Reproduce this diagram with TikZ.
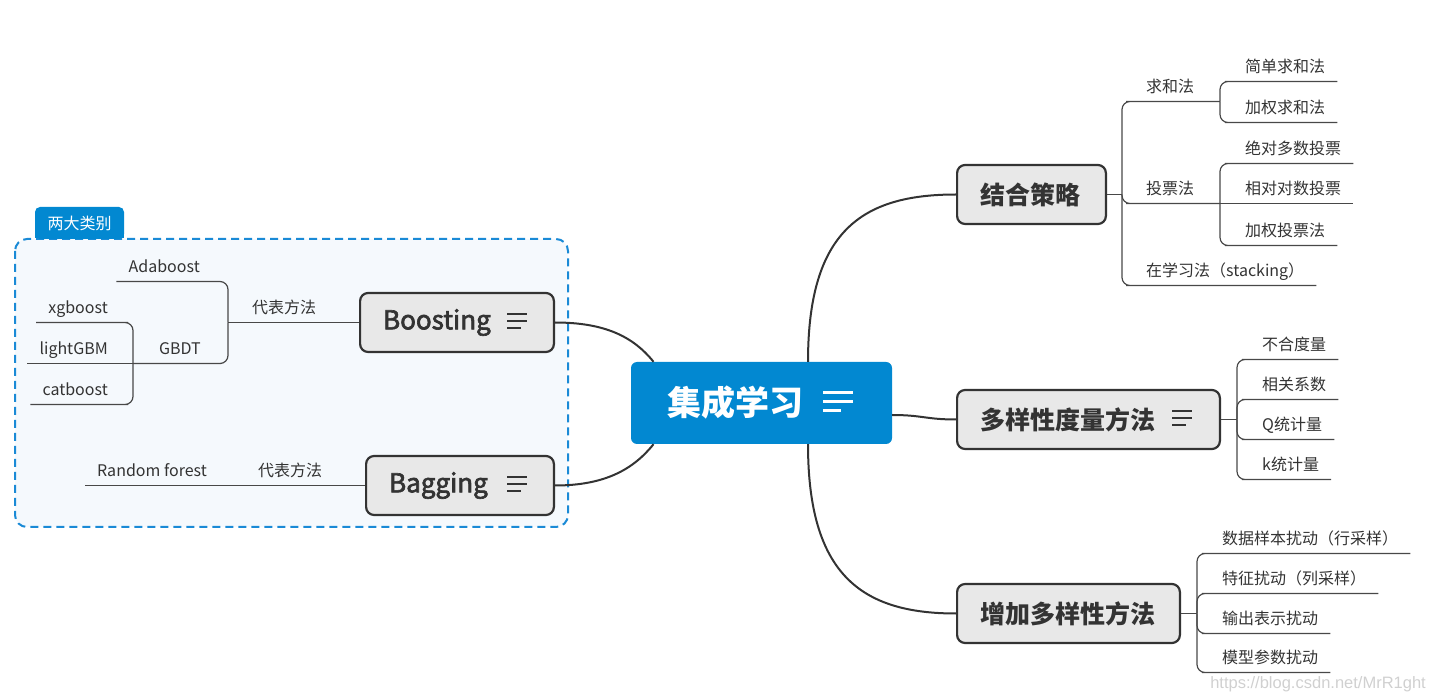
\documentclass[tikz,border=0pt]{standalone}
\usepackage{fontspec}
\setmainfont{Noto Sans CJK SC}
\newfontfamily\markfont{Liberation Sans}
\newfontfamily\semifont{Noto Sans CJK SC}[FakeBold=2.5]
\usepackage{tikz}
\usetikzlibrary{positioning}
\definecolor{rootColor}{RGB}{2,136,209}
\definecolor{boxFill}{RGB}{232,232,232}
\definecolor{boxLine}{RGB}{51,51,51}
\definecolor{textColor}{RGB}{51,51,51}
\definecolor{lineColor}{RGB}{72,72,72}
\definecolor{groupLine}{RGB}{26,138,214}
\definecolor{groupFill}{RGB}{245,249,253}
\definecolor{markColor}{RGB}{208,208,208}
\newcommand{\rootfont}{\fontsize{34}{34}\selectfont\bfseries}
\newcommand{\mainfont}{\fontsize{25}{25}\selectfont\bfseries}
\newcommand{\latinfont}{\semifont\fontsize{26}{26}\selectfont}
\newcommand{\leaffont}{\fontsize{16}{16}\selectfont}

\begin{document}
\begin{tikzpicture}[x=1pt,y=-1pt]

          \tikzstyle{rootNode} = [fill=rootColor, text=white, rounded corners=6pt, minimum height=82pt, inner xsep=36pt, align=left, font=\rootfont];
          \tikzstyle{mainNode} = [draw=boxLine, fill=boxFill, line width=2.2pt, rounded corners=8pt, minimum height=59pt, inner xsep=23pt, align=left, text=textColor, font=\mainfont];
          \tikzstyle{leafNode} = [inner xsep=12pt, inner ysep=0pt, text height=13pt, text depth=9pt, text=textColor, font=\leaffont];
          \tikzstyle{tabNode} = [fill=rootColor, text=white, rounded corners=5pt, minimum width=89pt, minimum height=32pt, inner sep=0pt, font=\fontsize{16}{16}\selectfont];

          \tikzstyle{trunkEdge} = [draw=boxLine, line width=2pt];
          \tikzstyle{branchEdge} = [draw=lineColor, line width=1.2pt, rounded corners=8pt];
          \tikzstyle{iconLine} = [draw=boxLine, line width=2pt];

          \tikzset{menu/.pic={\draw[iconLine] (-10,-7) -- (10,-7) (-10,0) -- (10,0) (-10,7) -- (4,7);}}
          \tikzset{bigmenu/.pic={\draw[white, line width=3pt] (-15,-9.5) -- (15,-9.5) (-15,0) -- (15,0) (-15,9) -- (3,9);}}

          \useasboundingbox (0,0) rectangle (1436,700);

          % group frame
          \draw[groupLine, fill=groupFill, line width=2pt, dash pattern=on 8pt off 5pt, rounded corners=12pt] (15,239) rectangle (568,527);
          \node[tabNode] (group) at (79.5,223) {两大类别};
          \fill[rootColor] ([yshift=1pt]group.south west) rectangle ([yshift=8pt]group.south east);

          % main nodes
          \node[rootNode, text width=189pt] (root) at (761.5,403) {集成学习};
          \node[mainNode, text width=147.8pt, font=\latinfont] (boost) at (457,322.5) {Boosting};
          \node[mainNode, text width=141.8pt, font=\latinfont] (bag) at (460,485.5) {Bagging};
          \node[mainNode, text width=102.8pt] (combine) at (1031.5,194.5) {结合策略};
          \node[mainNode, text width=216.8pt] (div) at (1088.5,419.5) {多样性度量方法};
          \node[mainNode, text width=176.8pt] (incr) at (1068.5,613.5) {增加多样性方法};

          \pic at (838,402) {bigmenu};
          \pic at (517,321) {menu};
          \pic at (517,484) {menu};
          \pic at (1182,418) {menu};

          % left side
          \node[leafNode, anchor=south west] (boostRep) at (240,322.5) {代表方法};
          \coordinate (boostJ) at (228,322.5);
          \node[leafNode, anchor=south east] (ada) at (212,281.5) {Adaboost};
          \node[leafNode, anchor=south east] (gbdt) at (213,363.5) {GBDT};
          \coordinate (gbdtJ) at (133,363.5);
          \node[leafNode, anchor=south east] (xg) at (120,322.5) {xgboost};
          \node[leafNode, anchor=south east] (lgbm) at (120,363.5) {lightGBM};
          \node[leafNode, anchor=south east] (cat) at (120,404.5) {catboost};

          \node[leafNode, anchor=south west] (bagRep) at (246,485.5) {代表方法};
          \node[leafNode, anchor=south east] (rf) at (219,485.5) {Random forest};

          % right side
          \coordinate (combJ) at (1122,194.5);
          \node[leafNode, anchor=south west] (sum) at (1134,101.5) {求和法};
          \coordinate (sumJ) at (1220,101.5);
          \node[leafNode, anchor=south west] (sumA) at (1233,81.5) {简单求和法};
          \node[leafNode, anchor=south west] (sumB) at (1233,122.5) {加权求和法};
          \node[leafNode, anchor=south west] (vote) at (1134,203.5) {投票法};
          \coordinate (voteJ) at (1220,203.5);
          \node[leafNode, anchor=south west] (voteA) at (1233,163.5) {绝对多数投票};
          \node[leafNode, anchor=south west] (voteB) at (1233,203.5) {相对对数投票};
          \node[leafNode, anchor=south west] (voteC) at (1233,245.5) {加权投票法};
          \node[leafNode, anchor=south west] (stack) at (1134,285.5) {在学习法（stacking）};

          \coordinate (divJ) at (1237,419.5);
          \node[leafNode, anchor=south west] (divA) at (1250,359.5) {不合度量};
          \node[leafNode, anchor=south west] (divB) at (1250,399.5) {相关系数};
          \node[leafNode, anchor=south west] (divC) at (1250,439.5) {Q统计量};
          \node[leafNode, anchor=south west] (divD) at (1250,479.5) {k统计量};

          \coordinate (incrJ) at (1197,613.5);
          \node[leafNode, anchor=south west] (incrA) at (1210,553.5) {数据样本扰动（行采样）};
          \node[leafNode, anchor=south west] (incrB) at (1210,593.5) {特征扰动（列采样）};
          \node[leafNode, anchor=south west] (incrC) at (1210,633.5) {输出表示扰动};
          \node[leafNode, anchor=south west] (incrD) at (1210,672.5) {模型参数扰动};

          \node[anchor=base east, inner sep=0pt, text=markColor, font=\markfont\fontsize{16.5}{16.5}\selectfont] (mark) at (1426,688) {https://blog.csdn.net/MrR1ght};

          % trunk edges
          \draw[trunkEdge] ([xshift=46.5pt]root.north) .. controls +(0,-130) and +(-95,0) .. (combine.west);
          \draw[trunkEdge] ([yshift=-12pt]root.east) .. controls +(30,0) and +(-30,0) .. (div.west);
          \draw[trunkEdge] ([xshift=46.5pt]root.south) .. controls +(0,130) and +(-95,0) .. (incr.west);
          \draw[trunkEdge] (boost.east) .. controls +(50,0) and +(-20,-25) .. ([xshift=-108pt]root.north);
          \draw[trunkEdge] (bag.east) .. controls +(50,0) and +(-20,25) .. ([xshift=-108pt]root.south);

          % branch edges
          \draw[branchEdge] (boost.west) -- (boostRep.south east) -- (boostRep.south west) -- (boostJ);
          \draw[branchEdge] (boostJ) |- (ada.south east) -- (ada.south west);
          \draw[branchEdge] (boostJ) |- (gbdt.south east) -- (gbdt.south west) -- (gbdtJ);
          \draw[branchEdge] (gbdtJ) |- (xg.south east) -- (xg.south west);
          \draw[branchEdge] (gbdtJ) -- (lgbm.south east) -- (lgbm.south west);
          \draw[branchEdge] (gbdtJ) |- (cat.south east) -- (cat.south west);
          \draw[branchEdge] (bag.west) -- (bagRep.south east) -- (bagRep.south west) -- (rf.south east) -- (rf.south west);

          \draw[branchEdge] (combine.east) -- (combJ);
          \draw[branchEdge] (combJ) |- (sum.south west) -- (sum.south east) -- (sumJ);
          \draw[branchEdge] (sumJ) |- (sumA.south west) -- (sumA.south east);
          \draw[branchEdge] (sumJ) |- (sumB.south west) -- (sumB.south east);
          \draw[branchEdge] (combJ) |- (vote.south west) -- (vote.south east) -- (voteJ);
          \draw[branchEdge] (voteJ) |- (voteA.south west) -- (voteA.south east);
          \draw[branchEdge] (voteJ) -- (voteB.south west) -- (voteB.south east);
          \draw[branchEdge] (voteJ) |- (voteC.south west) -- (voteC.south east);
          \draw[branchEdge] (combJ) |- (stack.south west) -- (stack.south east);

          \draw[branchEdge] (div.east) -- (divJ);
          \draw[branchEdge] (divJ) |- (divA.south west) -- (divA.south east);
          \draw[branchEdge] (divJ) |- (divB.south west) -- (divB.south east);
          \draw[branchEdge] (divJ) |- (divC.south west) -- (divC.south east);
          \draw[branchEdge] (divJ) |- (divD.south west) -- (divD.south east);

          \draw[branchEdge] (incr.east) -- (incrJ);
          \draw[branchEdge] (incrJ) |- (incrA.south west) -- (incrA.south east);
          \draw[branchEdge] (incrJ) |- (incrB.south west) -- (incrB.south east);
          \draw[branchEdge] (incrJ) |- (incrC.south west) -- (incrC.south east);
          \draw[branchEdge] (incrJ) |- (incrD.south west) -- (incrD.south east);
        \end{tikzpicture}
\end{document}
